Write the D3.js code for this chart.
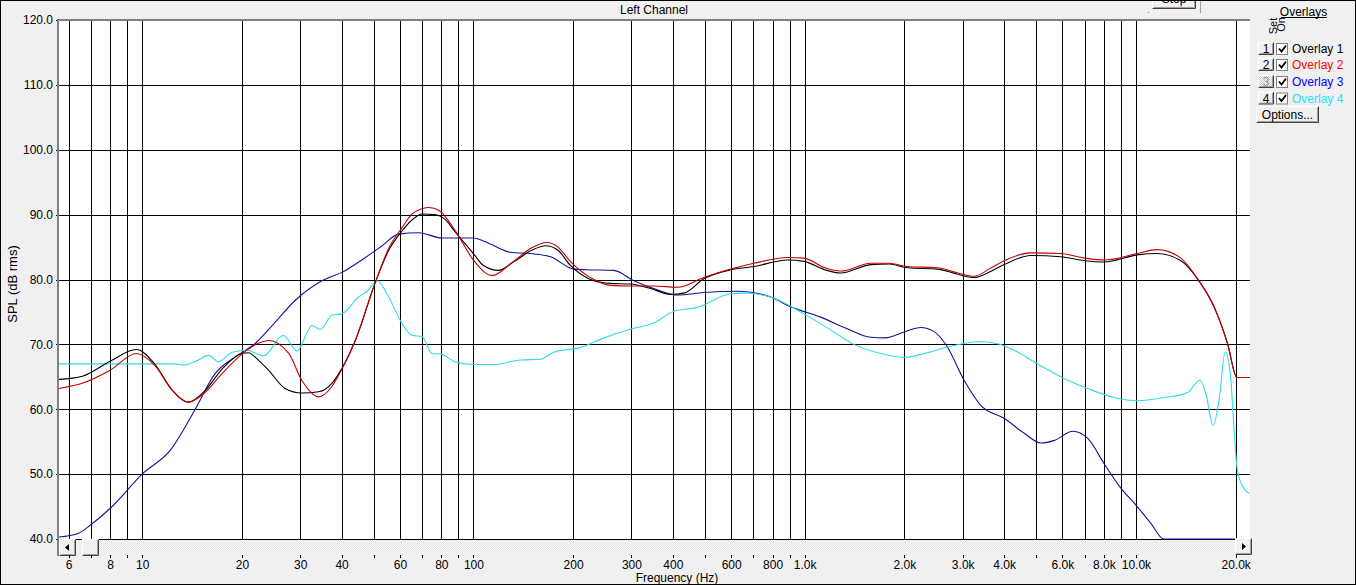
<!DOCTYPE html>
<html><head><meta charset="utf-8">
<script src="https://cdn.jsdelivr.net/npm/d3@7/dist/d3.min.js"></script>
<style>
html,body{margin:0;padding:0;background:#f0f0f0;overflow:hidden}
svg{display:block;font-family:"Liberation Sans",Arial,sans-serif;}
</style></head><body>
<svg id="c" width="1356" height="585"></svg>
<script>
// ---------- DATA ----------
const gridFreqs = [6,7,8,9,10,20,30,40,50,60,70,80,90,100,200,300,400,500,600,700,800,900,1000,2000,3000,4000,5000,6000,7000,8000,9000,10000,20000];
const labelFreqs = [6,8,10,20,30,40,60,80,100,200,300,400,600,800,1000,2000,3000,4000,6000,8000,10000,20000];
const labelTexts = ["6","8","10","20","30","40","60","80","100","200","300","400","600","800","1.0k","2.0k","3.0k","4.0k","6.0k","8.0k","10.0k","20.0k"];
const dbTicks = [40,50,60,70,80,90,100,110,120];
const dbTickLabels = ["40.0","50.0","60.0","70.0","80.0","90.0","100.0","110.0","120.0"];

const overlayNames = ["Overlay 1","Overlay 2","Overlay 3","Overlay 4"];

const ov1Freq = [5.6,6.6,8.0,9.6,10.9,12.3,13.8,15.5,17.5,20,20.9,22.5,24.1,27,30.3,34.1,37.4,40.1,44,50.6,55.5,60.9,65,70,76.7,82,88.2,100,107,119,132,150,165,180,196,231,259,298,343,394,432,496,598,703,887,995,1150,1285,1583,1800,2043,2517,2900,3250,3600,4001,4818,5932,7000,8020,10090,11600,13670,15350,17230,18910,20180,22100];
const ov1Db   = [64.6,65.1,67.4,69.2,67.0,63.0,61.1,62.9,66.3,68.6,68.7,67.5,66.0,63.2,62.5,62.7,64.0,66.3,70.6,79.6,84.5,87.5,89.1,90.1,90.0,89.3,87.3,84.0,82.2,81.4,82.7,84.5,85.2,84.5,82.2,79.8,79.4,79.3,78.6,77.7,77.9,80.1,81.5,82.0,83.0,82.8,81.5,81.0,82.3,82.4,81.8,81.6,80.8,80.3,81.1,82.3,83.7,83.5,82.9,82.7,83.8,84.0,82.9,80.1,75.7,70.1,64.9,64.9];

const ov2Freq = [5.6,6.6,8.0,9.6,10.9,12.3,13.8,15.5,17.5,20,22.5,24.1,27.7,30.3,34.1,37.4,40.1,44,50.6,55.5,60.9,65,70,73.3,79,88.2,100,114,130,150,167,180,196,231,259,298,350,413,496,598,703,887,995,1150,1285,1583,1800,2043,2517,2900,3250,3600,4001,4818,5932,7000,8020,10090,11600,13670,15350,17230,18910,20180,22100];
const ov2Db   = [63.2,64.0,66.0,68.6,66.8,63.0,61.1,62.6,65.6,68.5,70.2,70.6,68.6,64.5,61.9,63.5,66.2,70.6,79.6,84.8,88.0,90.0,90.9,91.1,90.6,87.5,83.0,80.6,82.5,84.9,85.7,85.0,82.8,80.0,79.1,79.0,79.0,78.8,80.3,81.6,82.5,83.4,83.3,81.8,81.3,82.5,82.5,82.0,81.8,81.0,80.5,81.6,82.9,84.1,84.0,83.3,83.0,84.0,84.6,83.3,80.1,75.8,70.1,64.9,64.9];

const ov3Freq = [5.6,6.43,7.0,8.0,10,12.3,13.5,14.5,16.6,19,21.9,25,29,34.9,40.1,47.2,53,59.4,68.4,80.4,100,112,129,149,171,201,220,265,305,359,413,496,626,789,907,1117,1345,1583,1750,1995,2240,2455,2696,3027,3401,4001,4600,5166,5677,6443,7156,8020,8957,10090,11100,12130,22100];
const ov3Db   = [40.3,40.9,42.2,44.7,50.0,54.0,57.3,60.1,65.5,68.0,70.1,73.2,76.8,79.8,81.1,83.4,85.2,87.0,87.2,86.4,86.4,85.5,84.2,84.0,83.5,81.6,81.5,81.4,79.8,78.4,77.6,78.0,78.2,77.3,75.8,74.2,72.4,71.1,71.0,71.9,72.6,72.0,69.6,64.5,60.6,58.6,56.3,54.8,55.2,56.6,55.5,51.6,48.0,45.0,42.4,40.0,40.0];

const ov4Freq = [5.6,12.5,13.3,14.5,15.9,17,18.7,20.9,22,23.2,26.7,29.3,32.6,34.5,37.4,40,45,48,51.2,55.5,60.9,65.3,70,75,80,88,100,115,139,159,175,210,248,301,347,403,474,598,671,789,995,1199,1408,1698,1995,2343,2696,3401,3822,4287,5045,6080,7156,8615,10090,12180,14330,15640,16260,17100,17820,18600,19270,19820,20180,20780,22000];
const ov4Db   = [67.0,67.0,66.8,67.4,68.3,67.3,68.8,69.1,68.6,68.2,71.4,69.0,72.9,72.3,74.5,74.7,77.3,78.3,79.8,77.3,73.2,71.4,71.2,68.6,68.5,67.3,66.9,66.9,67.6,67.7,68.8,69.5,71.0,72.4,73.2,75.1,75.7,77.8,77.9,77.3,74.7,72.2,70.0,68.6,68.0,68.7,69.6,70.4,70.1,69.1,67.0,64.7,63.2,61.8,61.3,61.8,62.6,64.5,62.4,57.5,61.4,68.8,65.5,56.3,51.1,48.6,47.0];

// ---------- STYLE / LAYOUT ----------
const lineColors = ["#000000","#c40000","#12129a","#30dce6"];
const legendColors = ["#000000","#ff0000","#0000ff","#22e4f4"];
const PX0=59, PX1=1250, PY0=20, PY1=539;

const svg = d3.select("#c");
const x = d3.scaleLog().domain([5.61,22100]).range([PX0,PX1]);
const y = d3.scaleLinear().domain([40,120]).range([PY1,PY0]);

const defs = svg.append("defs");
const hatch = defs.append("pattern").attr("id","hatch").attr("width",2).attr("height",2).attr("patternUnits","userSpaceOnUse");
hatch.append("rect").attr("width",2).attr("height",2).attr("fill","#fbfbfb");
hatch.append("rect").attr("width",1).attr("height",1).attr("fill","#e4e4e4");
hatch.append("rect").attr("x",1).attr("y",1).attr("width",1).attr("height",1).attr("fill","#e4e4e4");
const dith = defs.append("pattern").attr("id","dith").attr("width",2).attr("height",2).attr("patternUnits","userSpaceOnUse");
dith.append("rect").attr("width",2).attr("height",2).attr("fill","#ffffff");
dith.append("rect").attr("width",1).attr("height",1).attr("fill","#c8c8c8");
dith.append("rect").attr("x",1).attr("y",1).attr("width",1).attr("height",1).attr("fill","#c8c8c8");
defs.append("clipPath").attr("id","plotclip").append("rect")
  .attr("x",PX0).attr("y",PY0-1).attr("width",PX1-PX0).attr("height",PY1-PY0+2);

// background
svg.append("rect").attr("x",0).attr("y",0).attr("width",1356).attr("height",585).attr("fill","#f0f0f0");

function button(g, bx, by, bw, bh, fill){
  g.append("rect").attr("x",bx).attr("y",by).attr("width",bw).attr("height",bh).attr("fill",fill||"#f0f0f0");
  g.append("path").attr("d",`M${bx+0.5},${by+bh-0.5}V${by+0.5}H${bx+bw-0.5}`).attr("stroke","#ffffff").attr("fill","none");
  g.append("path").attr("d",`M${bx+1.5},${by+bh-1.5}H${bx+bw-1.5}V${by+1.5}`).attr("stroke","#a0a0a0").attr("fill","none");
  g.append("path").attr("d",`M${bx+0.5},${by+bh-0.5}H${bx+bw-0.5}V${by+0.5}`).attr("stroke","#404040").attr("fill","none");
}
// Stop button (partially visible)
const topBar = svg.append("g");
button(topBar,1152,-12,44,21);
topBar.append("text").attr("x",1174).attr("y",3).attr("text-anchor","middle").attr("font-size",12).text("Stop");
topBar.append("line").attr("x1",1200.5).attr("x2",1200.5).attr("y1",0).attr("y2",13).attr("stroke","#a0a0a0");
topBar.append("rect").attr("x",1148).attr("y",12).attr("width",1).attr("height",1).attr("fill","#808080");

// Title
svg.append("text").attr("x",654).attr("y",13.5).attr("text-anchor","middle").attr("font-size",12).text("Left Channel");

// plot area
svg.append("rect").attr("x",PX0).attr("y",PY0).attr("width",PX1-PX0).attr("height",PY1-PY0).attr("fill","#ffffff");

// grid via axes
const gx = svg.append("g").attr("transform",`translate(0,${PY1})`)
  .call(d3.axisBottom(x).tickValues(gridFreqs).tickSize(-(PY1-PY0)).tickFormat(""));
gx.select(".domain").remove();
gx.selectAll("line").attr("stroke","#000").attr("shape-rendering","crispEdges");
const gy = svg.append("g").attr("transform",`translate(${PX1},0)`)
  .call(d3.axisLeft(y).tickValues(dbTicks).tickSize(PX1-PX0+3).tickFormat(""));
gy.select(".domain").remove();
gy.selectAll("line").attr("stroke","#000").attr("shape-rendering","crispEdges");

// y labels
const yl = svg.append("g").attr("transform",`translate(${PX0-3},0)`)
  .call(d3.axisLeft(y).tickValues(dbTicks).tickSize(0).tickPadding(3).tickFormat((d,i)=>dbTickLabels[i]));
yl.select(".domain").remove();
yl.selectAll("text").attr("font-size",12).attr("font-family","Liberation Sans, Arial, sans-serif").attr("fill","#000");

// curves
const series = [[ov1Freq,ov1Db],[ov2Freq,ov2Db],[ov3Freq,ov3Db],[ov4Freq,ov4Db]];
const line = d3.line().x(d=>x(d[0])).y(d=>y(d[1])).curve(d3.curveMonotoneX);
const cg = svg.append("g").attr("clip-path","url(#plotclip)");
[2,3,0,1].forEach(i=>{
  const pts = series[i][0].map((f,j)=>[f,series[i][1][j]]);
  cg.append("path").attr("d",line(pts)).attr("fill","none").attr("stroke",lineColors[i]).attr("stroke-width",1.1);
});

// plot borders
svg.append("rect").attr("x",PX0-2).attr("y",PY0-1).attr("width",PX1-PX0+2).attr("height",2).attr("fill","#808080");
svg.append("rect").attr("x",PX0-2).attr("y",PY0-1).attr("width",2).attr("height",556-PY0+1).attr("fill","#808080");

// scrollbar
const sb = svg.append("g");
sb.append("rect").attr("x",PX0).attr("y",540).attr("width",PX1-PX0).attr("height",15).attr("fill","url(#hatch)");
button(sb,PX0,539,17,17);
sb.append("path").attr("d","M65,547.5L69,544V551Z").attr("fill","#000");
button(sb,82,539,17,17);
button(sb,1235,538,17,17);
sb.append("path").attr("d","M1246,546.5L1242,543V550Z").attr("fill","#000");

// x ticks & labels
const xl = svg.append("g").attr("transform","translate(0,555)")
  .call(d3.axisBottom(x).tickValues(gridFreqs).tickSize(3).tickFormat(""));
xl.select(".domain").remove();
xl.selectAll("line").attr("stroke","#000").attr("shape-rendering","crispEdges");
const xlab = svg.append("g").attr("transform","translate(0,558)")
  .call(d3.axisBottom(x).tickValues(labelFreqs).tickSize(0).tickPadding(2).tickFormat((d,i)=>labelTexts[i]));
xlab.select(".domain").remove();
xlab.selectAll("text").attr("font-size",12).attr("font-family","Liberation Sans, Arial, sans-serif").attr("fill","#000");

svg.append("text").attr("x",677).attr("y",582).attr("text-anchor","middle").attr("font-size",12).text("Frequency (Hz)");
svg.append("text").attr("transform","translate(16.5,284) rotate(-90)").attr("text-anchor","middle").attr("font-size",13).text("SPL (dB rms)");

// legend panel
const lg = svg.append("g");
lg.append("text").attr("x",1303.5).attr("y",16).attr("text-anchor","middle").attr("font-size",12).text("Overlays");
lg.append("rect").attr("x",1281).attr("y",17).attr("width",46).attr("height",1).attr("fill","#000");
lg.append("text").attr("transform","translate(1277,26) rotate(-90)").attr("text-anchor","middle").attr("font-size",11).text("Set");
lg.append("text").attr("transform","translate(1284.5,24.5) rotate(-90)").attr("text-anchor","middle").attr("font-size",11).text("On");
const rowY = [42,58,75,91.5];
overlayNames.forEach((n,i)=>{
  const ry = rowY[i];
  button(lg,1258,ry,16,13, i===2 ? "url(#dith)" : "#f0f0f0");
  lg.append("text").attr("x",1266).attr("y",ry+11).attr("text-anchor","middle").attr("font-size",12)
    .attr("fill", i===2 ? "#9a9a9a" : "#000").text(String(i+1));
  lg.append("rect").attr("x",1276.5).attr("y",ry+1.5).attr("width",11).attr("height",11).attr("fill","#fff").attr("stroke","#808080");
  lg.append("path").attr("d",`M${1279},${ry+6.5}L${1281.5},${ry+9.5}L${1286},${ry+3.5}`).attr("fill","none").attr("stroke","#000").attr("stroke-width",1.8);
  lg.append("text").attr("x",1292).attr("y",ry+11).attr("font-size",12).attr("fill",legendColors[i]).text(n);
});
button(lg,1256,106,63,17);
lg.append("text").attr("x",1287.5).attr("y",119).attr("text-anchor","middle").attr("font-size",12).text("Options...");

// outer border
svg.append("rect").attr("x",0.5).attr("y",0.5).attr("width",1355).attr("height",584).attr("fill","none").attr("stroke","#000");
</script>
</body></html>
